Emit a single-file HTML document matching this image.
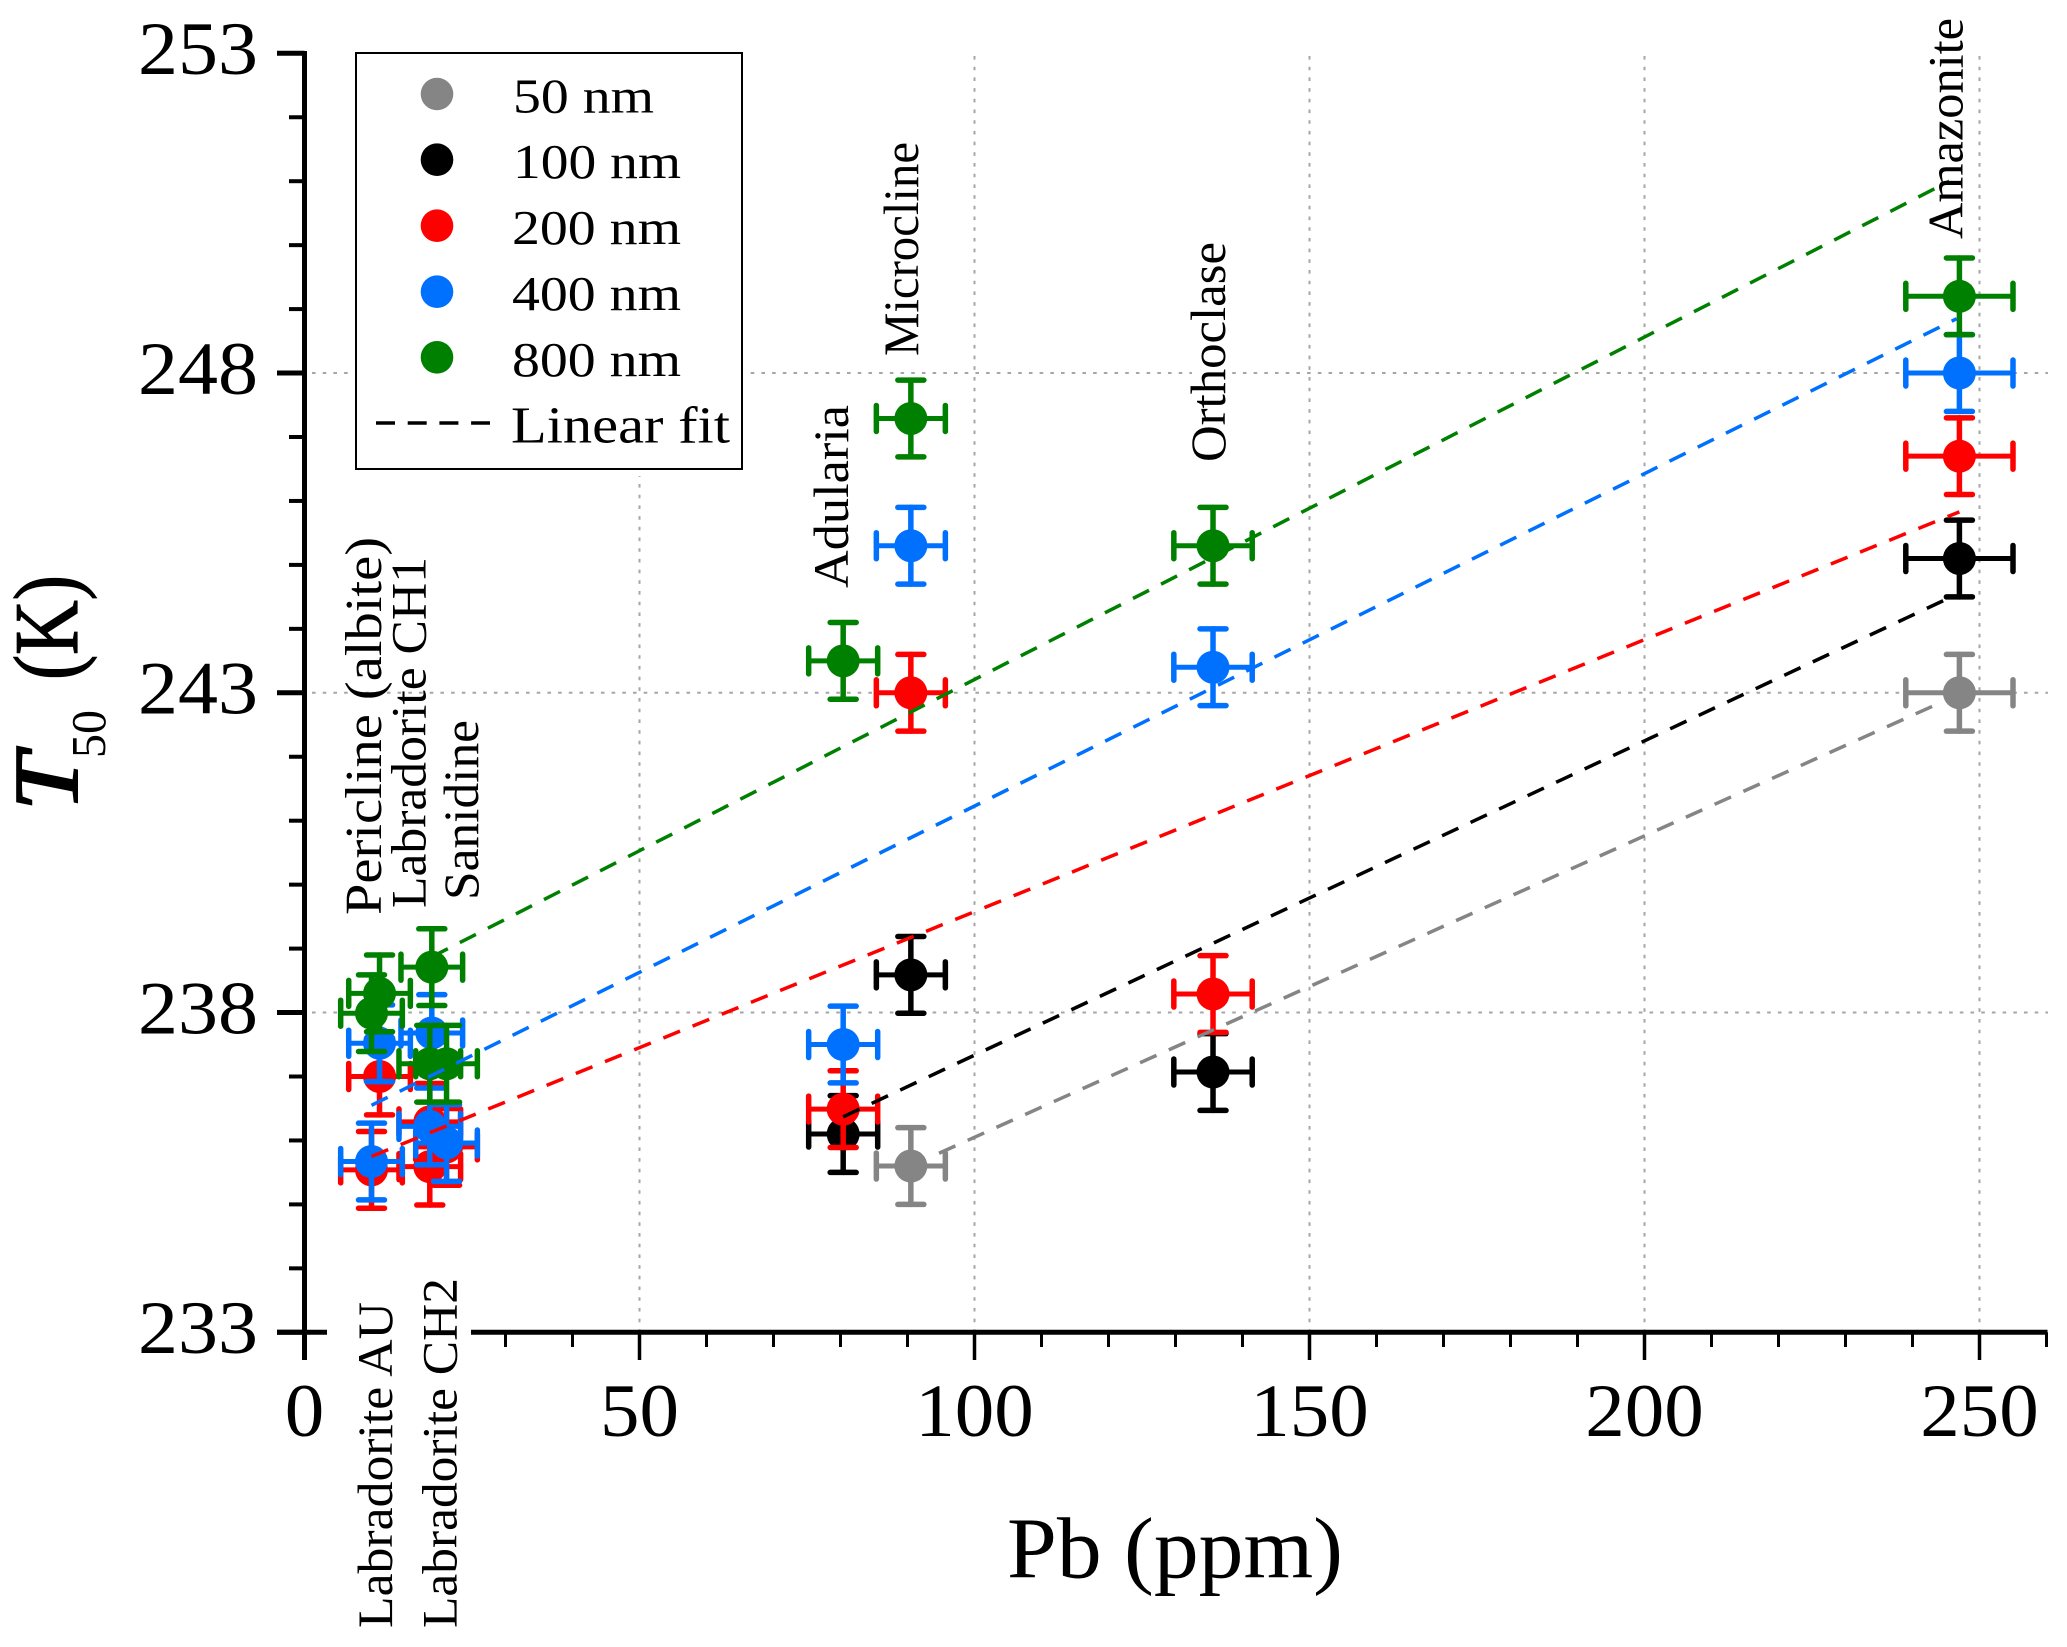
<!DOCTYPE html>
<html lang="en">
<head>
<meta charset="utf-8">
<title>T50 versus Pb concentration</title>
<style>
html,body{margin:0;padding:0;background:#fff;width:2067px;height:1647px;overflow:hidden}
svg{display:block}
text{font-family:"Liberation Serif",serif;fill:#000}
</style>
</head>
<body>
<svg id="chart" xmlns="http://www.w3.org/2000/svg" width="2067" height="1647" viewBox="0 0 2067 1647">
  <rect x="0" y="0" width="2067" height="1647" fill="#fff"/>
  <g id="grid"></g>
  <g id="axes"></g>
  <rect x="327" y="1326" width="144" height="40" fill="#fff"/>
  <rect x="1192" y="360" width="36" height="25" fill="#fff"/>
  <g id="marks"></g>
  <g id="fits"></g>

  <g font-size="50">
    <text font-size="52" transform="translate(381,915) rotate(-90)" textLength="378" lengthAdjust="spacingAndGlyphs">Pericline (albite)</text>
    <text transform="translate(425.7,908) rotate(-90)" textLength="351" lengthAdjust="spacingAndGlyphs">Labradorite CH1</text>
    <text transform="translate(478,900) rotate(-90)" textLength="180" lengthAdjust="spacingAndGlyphs">Sanidine</text>
    <text transform="translate(392,1628) rotate(-90)" textLength="326" lengthAdjust="spacingAndGlyphs">Labradorite AU</text>
    <text transform="translate(456.7,1628) rotate(-90)" textLength="350" lengthAdjust="spacingAndGlyphs">Labradorite CH2</text>
    <text transform="translate(848,588) rotate(-90)" textLength="183" lengthAdjust="spacingAndGlyphs">Adularia</text>
    <text transform="translate(918,356) rotate(-90)" textLength="214" lengthAdjust="spacingAndGlyphs">Microcline</text>
    <text transform="translate(1225,462) rotate(-90)" textLength="220" lengthAdjust="spacingAndGlyphs">Orthoclase</text>
    <text transform="translate(1962.7,239) rotate(-90)" textLength="221" lengthAdjust="spacingAndGlyphs">Amazonite</text>
  </g>

  <g id="legend">
    <rect x="349" y="46" width="400" height="430" fill="#fff"/>
    <rect x="356" y="53" width="386" height="416" fill="#fff" stroke="#000" stroke-width="2"/>
    <g>
      <circle cx="437" cy="94" r="16.3" fill="#858585"/>
      <text x="513" y="112.7" font-size="49" textLength="141" lengthAdjust="spacingAndGlyphs">50 nm</text>
    </g>
    <g>
      <circle cx="437" cy="159.7" r="16.3" fill="#000"/>
      <text x="513" y="178" font-size="49" textLength="168" lengthAdjust="spacingAndGlyphs">100 nm</text>
    </g>
    <g>
      <circle cx="437" cy="225.7" r="16.3" fill="#ff0000"/>
      <text x="512" y="244" font-size="49" textLength="169" lengthAdjust="spacingAndGlyphs">200 nm</text>
    </g>
    <g>
      <circle cx="437" cy="291.7" r="16.3" fill="#0070ff"/>
      <text x="512" y="310" font-size="49" textLength="169" lengthAdjust="spacingAndGlyphs">400 nm</text>
    </g>
    <g>
      <circle cx="437" cy="357.3" r="16.3" fill="#008000"/>
      <text x="512" y="376" font-size="49" textLength="169" lengthAdjust="spacingAndGlyphs">800 nm</text>
    </g>
    <g>
      <line x1="376" y1="423" x2="490" y2="423" stroke="#000" stroke-width="3.5" stroke-dasharray="19 12.7"/>
      <text x="511" y="442.7" font-size="52" textLength="219" lengthAdjust="spacingAndGlyphs">Linear fit</text>
    </g>
  </g>

  <text x="1007" y="1577.7" font-size="87" textLength="336" lengthAdjust="spacingAndGlyphs">Pb (ppm)</text>
  <g>
    <text transform="translate(77,811) rotate(-90)" font-size="91" font-style="italic" stroke="#000" stroke-width="2" textLength="58" lengthAdjust="spacingAndGlyphs">T</text>
    <text transform="translate(105,758) rotate(-90)" font-size="49" textLength="48" lengthAdjust="spacingAndGlyphs">50</text>
    <text transform="translate(77,680) rotate(-90)" font-size="91" stroke="#000" stroke-width="1.2" textLength="105" lengthAdjust="spacingAndGlyphs">(K)</text>
  </g>
</svg>

<script>
// Axis tick labels
const xTickLabels = [0, 50, 100, 150, 200, 250];
const yTickLabels = [233, 238, 243, 248, 253];
const gridX = [50, 100, 150, 200, 250];
const gridY = [238, 243, 248];

// Measurement series: Pb (ppm), T50 (K), x error
const grayX = [90.5, 247];
const grayY = [235.6, 243.0];
const grayErr = [5.15, 8];

const blackX = [80.4, 90.5, 135.6, 247];
const blackY = [236.1, 238.59, 237.07, 245.1];
const blackErr = [5.15, 5.15, 5.85, 8];

const redX = [10, 11.2, 18.7, 18.7, 21.2, 80.4, 90.5, 135.6, 247];
const redY = [235.54, 237.0, 235.59, 236.29, 235.9, 236.49, 243.0, 238.29, 246.7];
const redErr = [4.6, 4.6, 4.6, 4.6, 4.6, 5.15, 5.15, 5.85, 8];

const blueX = [10, 11.2, 19, 18.7, 21.2, 80.4, 90.5, 135.6, 247];
const blueY = [235.67, 237.52, 237.68, 236.22, 235.96, 237.5, 245.3, 243.4, 248.0];
const blueErr = [4.6, 4.6, 4.6, 4.6, 4.6, 5.15, 5.15, 5.85, 8];

const greenX = [10, 11.2, 19, 18.7, 21.2, 80.4, 90.5, 135.6, 247];
const greenY = [237.99, 238.3, 238.71, 237.2, 237.2, 243.5, 247.29, 245.3, 249.2];
const greenErr = [4.6, 4.6, 4.6, 4.6, 4.6, 5.15, 5.15, 5.85, 8];

const yErrK = 0.6;

// Linear fit end points
const fitGrayX = [94.7, 244.7];
const fitGrayY = [235.8, 242.87];
const fitBlackX = [80.4, 245.8];
const fitBlackY = [236.37, 244.5];
const fitRedX = [10, 247];
const fitRedY = [235.75, 245.83];
const fitBlueX = [10, 246.6];
const fitBlueY = [236.55, 248.85];
const fitGreenX = [19, 245.5];
const fitGreenY = [238.87, 251.0];

const NS = 'http://www.w3.org/2000/svg';
function sx(v) { return 304.5 + (v - 0) * 6.7; }
function sy(v) { return 53.3 + (253 - v) * 63.95; }

function mk(parent, tag) {
  const el = document.createElementNS(NS, tag);
  parent.appendChild(el);
  return el;
}
function lineEl(parent, x1, y1, x2, y2, stroke, width) {
  const el = mk(parent, 'line');
  el.setAttribute('x1', x1);
  el.setAttribute('y1', y1);
  el.setAttribute('x2', x2);
  el.setAttribute('y2', y2);
  el.setAttribute('stroke', stroke);
  el.setAttribute('stroke-width', width);
  return el;
}

const gridG = document.getElementById('grid');
const axesG = document.getElementById('axes');
const marksG = document.getElementById('marks');
const fitsG = document.getElementById('fits');

gridX.forEach(function (v) {
  const l = lineEl(gridG, sx(v), 56, sx(v), 1330, '#a6a6a6', 2);
  l.setAttribute('stroke-dasharray', '3.6 7.1');
  
  
});
gridY.forEach(function (v) {
  const l = lineEl(gridG, 312, sy(v), 2048, sy(v), '#a6a6a6', 2);
  l.setAttribute('stroke-dasharray', '3.6 7.1');
  
  
});

// y axis
const yAxisLine = lineEl(axesG, sx(0), 51, sx(0), 1360, '#000', 5);


for (let v = 233; v <= 253; v += 1) {
  const major = (v - 233) % 5 === 0;
  const t = lineEl(axesG, major ? 277 : 289, sy(v), sx(0), sy(v), '#000', major ? 5 : 4);
  
  
}
yTickLabels.forEach(function (v) {
  const t = mk(axesG, 'text');
  t.setAttribute('x', 258);
  t.setAttribute('y', sy(v) + 20.7);
  t.setAttribute('font-size', 75);
  t.setAttribute('text-anchor', 'end');
  t.setAttribute('textLength', 120);
  t.setAttribute('lengthAdjust', 'spacingAndGlyphs');
  
  
  t.textContent = String(v);
});

// x axis
const xAxisLine = lineEl(axesG, 277, sy(233), sx(260) + 1, sy(233), '#000', 5);


for (let v = 0; v <= 260; v += 10) {
  const major = v % 50 === 0;
  const t = lineEl(axesG, sx(v), sy(233), sx(v), major ? 1360 : 1347, '#000', major ? 3.5 : 3);
  
  
}
xTickLabels.forEach(function (v) {
  const t = mk(axesG, 'text');
  const s = String(v);
  t.setAttribute('x', sx(v));
  t.setAttribute('y', 1436);
  t.setAttribute('font-size', 75);
  t.setAttribute('text-anchor', 'middle');
  t.setAttribute('textLength', s.length * 39.5);
  t.setAttribute('lengthAdjust', 'spacingAndGlyphs');
  
  
  t.textContent = s;
});

function drawSeries(name, color, xs, ys, errs) {
  const g = mk(marksG, 'g');
  
  
  xs.forEach(function (xv, i) {
    const cx = sx(xv);
    const cy = sy(ys[i]);
    const x0 = sx(xv - errs[i]);
    const x1 = sx(xv + errs[i]);
    const y0 = sy(ys[i] + yErrK);
    const y1 = sy(ys[i] - yErrK);
    const p = mk(g, 'g');
    
    
    const segs = [
      [x0, cy, x1, cy, 5], [cx, y0, cx, y1, 5.5],
      [x0, cy - 13, x0, cy + 13, 5.5], [x1, cy - 13, x1, cy + 13, 5.5],
      [cx - 13, y0, cx + 13, y0, 5.5], [cx - 13, y1, cx + 13, y1, 5.5]
    ];
    segs.forEach(function (s) {
      const l = lineEl(p, s[0], s[1], s[2], s[3], color, s[4]);
      l.setAttribute('stroke-linecap', 'round');
    });
    const c = mk(p, 'circle');
    c.setAttribute('cx', cx);
    c.setAttribute('cy', cy);
    c.setAttribute('r', 16.5);
    c.setAttribute('fill', color);
  });
}
drawSeries('50-nm', '#858585', grayX, grayY, grayErr);
drawSeries('100-nm', '#000000', blackX, blackY, blackErr);
drawSeries('200-nm', '#ff0000', redX, redY, redErr);
drawSeries('400-nm', '#0070ff', blueX, blueY, blueErr);
drawSeries('800-nm', '#008000', greenX, greenY, greenErr);

function drawFit(name, color, xs, ys) {
  const l = lineEl(fitsG, sx(xs[0]), sy(ys[0]), sx(xs[1]), sy(ys[1]), color, 3.5);
  l.setAttribute('stroke-dasharray', '18 13.5');
  
  
}
drawFit('50-nm', '#858585', fitGrayX, fitGrayY);
drawFit('100-nm', '#000000', fitBlackX, fitBlackY);
drawFit('200-nm', '#ff0000', fitRedX, fitRedY);
drawFit('400-nm', '#0070ff', fitBlueX, fitBlueY);
drawFit('800-nm', '#008000', fitGreenX, fitGreenY);
</script>
</body>
</html>
